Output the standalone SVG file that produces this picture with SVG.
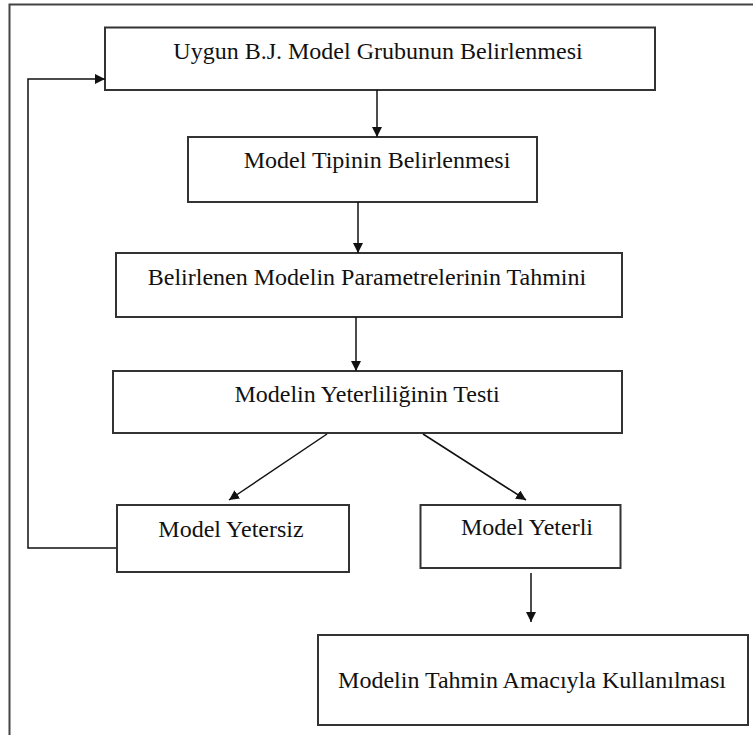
<svg xmlns="http://www.w3.org/2000/svg" width="753" height="735" viewBox="0 0 753 735">
<style>
.box{fill:#fff;stroke:#333;stroke-width:2}
.lbl{font-family:"Liberation Serif","Times New Roman",serif;font-size:24px;fill:#111;text-anchor:middle}
.con{fill:none;stroke:#111;stroke-width:1.5}
.frame{fill:none;stroke:#444;stroke-width:2}
</style>
<defs>
<marker id="ah" viewBox="0 0 10 10" refX="10" refY="5" markerWidth="10" markerHeight="10" markerUnits="userSpaceOnUse" orient="auto">
<path d="M0,0 L10,5 L0,10 Z" fill="#111"/>
</marker>
</defs>
<rect width="753" height="735" fill="#fff"/>
<path class="frame" d="M753,4.5 H9.5 V735"/>
<g id="n1"><rect class="box" x="105" y="27.5" width="550" height="62.5"/><text class="lbl" x="378" y="59">Uygun B.J. Model Grubunun Belirlenmesi</text></g>
<g id="n2"><rect class="box" x="188" y="137" width="349" height="65"/><text class="lbl" x="377" y="168">Model Tipinin Belirlenmesi</text></g>
<g id="n3"><rect class="box" x="116" y="253" width="506" height="64"/><text class="lbl" x="367" y="285">Belirlenen Modelin Parametrelerinin Tahmini</text></g>
<g id="n4"><rect class="box" x="113" y="371" width="509" height="62"/><text class="lbl" x="367" y="402">Modelin Yeterliliğinin Testi</text></g>
<g id="n5"><rect class="box" x="117" y="505" width="232" height="67"/><text class="lbl" x="231" y="537">Model Yetersiz</text></g>
<g id="n6"><rect class="box" x="420.5" y="505" width="200" height="63"/><text class="lbl" x="527" y="535">Model Yeterli</text></g>
<g id="n7"><rect class="box" x="318" y="635" width="430" height="90"/><text class="lbl" x="532" y="688">Modelin Tahmin Amacıyla Kullanılması</text></g>
<g id="connectors">
<line class="con" x1="377" y1="90" x2="377" y2="137" marker-end="url(#ah)"/>
<line class="con" x1="358" y1="202" x2="358" y2="253" marker-end="url(#ah)"/>
<line class="con" x1="356" y1="317" x2="356" y2="371" marker-end="url(#ah)"/>
<line class="con" x1="327" y1="434" x2="229" y2="500" marker-end="url(#ah)"/>
<line class="con" x1="423" y1="434" x2="526" y2="500" marker-end="url(#ah)"/>
<line class="con" x1="531" y1="573" x2="531" y2="622" marker-end="url(#ah)"/>
<path class="con" d="M116,548 H28 V79 H105" marker-end="url(#ah)"/>
</g>
</svg>
